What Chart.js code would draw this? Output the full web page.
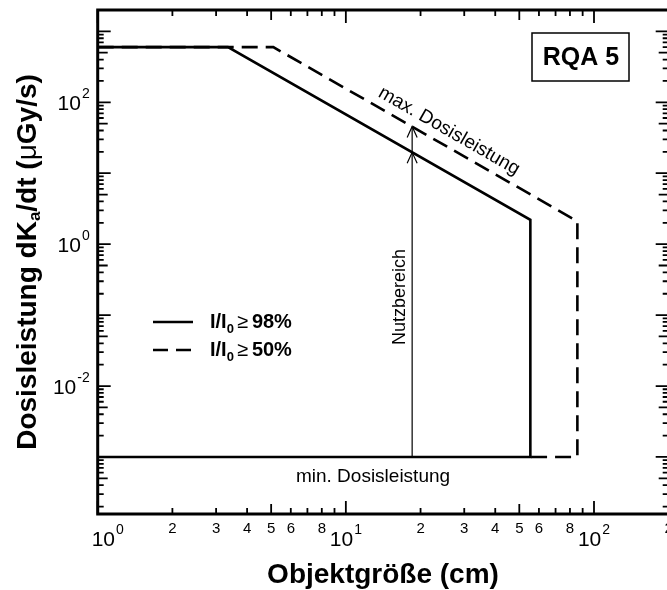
<!DOCTYPE html>
<html>
<head>
<meta charset="utf-8">
<script src="https://cdn.jsdelivr.net/npm/chart.js@4.4.0/dist/chart.umd.min.js"></script>
<style>
  html, body { margin: 0; padding: 0; overflow: hidden; background: #fff; }
  canvas { display: block; }
</style>
</head>
<body>
<canvas id="chart" width="690" height="590"></canvas>
<script>
// Kurven (Objektgröße in cm, Dosisleistung in µGy/s)
const solidX = [1, 3.35, 55.4, 55.4, 1];
const solidY = [600, 600, 2.2, 0.001, 0.001];
const dashX = [1, 5.1, 85.7, 85.7, 55.4];
const dashY = [600, 600, 2.1, 0.001, 0.001];

// Pfeil "Nutzbereich"
const arrowX = [18.5, 18.5];
const arrowY = [0.001, 45.6];
const arrowHeads = [19.7, 45.6];

// Achsen
const xRange = [1, 200];
const yRange = [1.57e-4, 2000];
const xMinorLabels = [2, 3, 4, 5, 6, 8];
const yLabelExp = [-2, 0, 2];

const legendLabels = ['98%', '50%'];

const FONT = "'Liberation Sans', Arial, sans-serif";

function toPoints(xs, ys) {
    return xs.map((x, i) => ({ x: x, y: ys[i] }));
}

function logTicks(min, max) {
    const out = [];
    for (let e = Math.floor(Math.log10(min)); e <= Math.ceil(Math.log10(max)); e++) {
        for (let m = 1; m <= 9; m++) {
            const v = m * Math.pow(10, e);
            if (v >= min * 0.999 && v <= max * 1.001) out.push({ v: v, m: m, e: e });
        }
    }
    return out;
}

// Zehnerpotenz mit Hochzahl zeichnen
function drawPow(ctx, exp, x, y, align) {
    ctx.font = "21px " + FONT;
    const wBase = ctx.measureText('10').width;
    ctx.font = "14px " + FONT;
    const wExp = ctx.measureText(String(exp)).width;
    const total = wBase + wExp + 1;
    let x0 = x;
    if (align === 'center') x0 = x - total / 2;
    if (align === 'right') x0 = x - total;
    ctx.textAlign = 'left';
    ctx.textBaseline = 'middle';
    ctx.font = "21px " + FONT;
    ctx.fillText('10', x0, y);
    ctx.font = "14px " + FONT;
    ctx.fillText(String(exp), x0 + wBase + 1, y - 10);
}

const framePlugin = {
    id: 'frame',
    afterDraw(chart) {
        const ctx = chart.ctx;
        const a = chart.chartArea;
        const xs = chart.scales.x;
        const ys = chart.scales.y;
        ctx.save();
        ctx.fillStyle = '#000';
        ctx.strokeStyle = '#000';

        // Ticks
        ctx.lineWidth = 1.8;
        logTicks(xRange[0], xRange[1]).forEach(t => {
            const px = xs.getPixelForValue(t.v);
            const len = t.m === 1 ? 13 : (t.m === 5 ? 10 : 6);
            ctx.beginPath();
            ctx.moveTo(px, a.bottom); ctx.lineTo(px, a.bottom - len);
            ctx.moveTo(px, a.top); ctx.lineTo(px, a.top + len);
            ctx.stroke();
        });
        logTicks(yRange[0], yRange[1]).forEach(t => {
            const py = ys.getPixelForValue(t.v);
            const len = t.m === 1 ? 13 : (t.m === 5 ? 10 : 6);
            ctx.beginPath();
            ctx.moveTo(a.left, py); ctx.lineTo(a.left + len, py);
            ctx.moveTo(a.right, py); ctx.lineTo(a.right - len, py);
            ctx.stroke();
        });

        // Rahmen
        ctx.lineWidth = 3;
        ctx.strokeRect(a.left, a.top, a.right - a.left, a.bottom - a.top);

        // x-Beschriftung
        logTicks(xRange[0], xRange[1]).forEach(t => {
            const px = xs.getPixelForValue(t.v);
            if (t.m === 1) {
                drawPow(ctx, t.e, px + (t.e === 0 ? 10 : 0), a.bottom + 26, 'center');
            } else if (xMinorLabels.includes(t.m)) {
                ctx.font = "15px " + FONT;
                ctx.textAlign = 'center';
                ctx.textBaseline = 'middle';
                ctx.fillText(String(t.m), px, a.bottom + 15);
            }
        });
        // y-Beschriftung
        yLabelExp.forEach(e => {
            const py = ys.getPixelForValue(Math.pow(10, e));
            drawPow(ctx, e, a.left - 8, py + 2, 'right');
        });

        // Achsentitel
        ctx.font = "bold 28px " + FONT;
        ctx.textAlign = 'center';
        ctx.textBaseline = 'middle';
        ctx.fillText('Objektgröße (cm)', 383, 575);

        ctx.save();
        ctx.translate(28, (a.top + a.bottom) / 2);
        ctx.rotate(-Math.PI / 2);
        const parts = [
            ['Dosisleistung dK', "bold 28px " + FONT, 0],
            ['a', "bold 17px " + FONT, 7],
            ['/dt (', "bold 28px " + FONT, 0],
            ['\u03bc', "28px " + FONT, 0],
            ['Gy/s)', "bold 28px " + FONT, 0]
        ];
        let tw = 0;
        parts.forEach(p => { ctx.font = p[1]; tw += ctx.measureText(p[0]).width; });
        let cx = -tw / 2;
        ctx.textAlign = 'left';
        parts.forEach(p => {
            ctx.font = p[1];
            ctx.fillText(p[0], cx, p[2]);
            cx += ctx.measureText(p[0]).width;
        });
        ctx.restore();

        // Pfeilspitzen
        ctx.lineWidth = 1.2;
        const ax = xs.getPixelForValue(arrowX[0]);
        arrowHeads.forEach(v => {
            const py = ys.getPixelForValue(v);
            ctx.beginPath();
            ctx.moveTo(ax - 5, py + 11);
            ctx.lineTo(ax, py);
            ctx.lineTo(ax + 5, py + 11);
            ctx.stroke();
        });

        // Texte im Diagramm
        ctx.font = "19px " + FONT;
        ctx.textAlign = 'center';
        ctx.textBaseline = 'middle';
        ctx.fillText('min. Dosisleistung', 373, 477);

        ctx.save();
        ctx.translate(ax - 12, 297);
        ctx.rotate(-Math.PI / 2);
        ctx.font = "18px " + FONT;
        ctx.fillText('Nutzbereich', 0, 0);
        ctx.restore();

        const p1x = xs.getPixelForValue(dashX[1]), p1y = ys.getPixelForValue(dashY[1]);
        const p2x = xs.getPixelForValue(dashX[2]), p2y = ys.getPixelForValue(dashY[2]);
        const ang = Math.atan2(p2y - p1y, p2x - p1x);
        ctx.save();
        ctx.translate(449, 131);
        ctx.rotate(ang);
        ctx.font = "19px " + FONT;
        ctx.fillText('max. Dosisleistung', 0, 0);
        ctx.restore();

        // RQA-Box
        ctx.lineWidth = 1.5;
        ctx.strokeRect(532, 33, 97, 48);
        ctx.font = "bold 25px " + FONT;
        ctx.fillText('RQA 5', 581, 58);

        // Legende
        ctx.lineWidth = 2.5;
        ctx.beginPath(); ctx.moveTo(153, 322); ctx.lineTo(193, 322); ctx.stroke();
        ctx.setLineDash([15, 8]);
        ctx.beginPath(); ctx.moveTo(153, 350); ctx.lineTo(193, 350); ctx.stroke();
        ctx.setLineDash([]);
        legendLabels.forEach((lab, i) => {
            const y = 322 + i * 28;
            let x = 210;
            ctx.textAlign = 'left';
            ctx.font = "bold 20px " + FONT;
            ctx.fillText('I/I', x, y);
            x += ctx.measureText('I/I').width;
            ctx.font = "bold 13px " + FONT;
            ctx.fillText('0', x, y + 7);
            x += ctx.measureText('0').width + 3;
            ctx.font = "20px " + FONT;
            ctx.fillText('\u2265', x, y);
            x += ctx.measureText('\u2265').width + 4;
            ctx.font = "bold 20px " + FONT;
            ctx.fillText(lab, x, y);
        });
        ctx.restore();
    }
};

new Chart(document.getElementById('chart'), {
    type: 'scatter',
    data: {
        datasets: [
            {
                label: 'I/I0 >= 98%',
                data: toPoints(solidX, solidY),
                showLine: true,
                borderColor: '#000',
                borderWidth: 2.6,
                pointRadius: 0,
                tension: 0
            },
            {
                label: 'I/I0 >= 50%',
                data: toPoints(dashX, dashY),
                showLine: true,
                borderColor: '#000',
                borderWidth: 2.6,
                borderDash: [16, 8],
                pointRadius: 0,
                tension: 0
            },
            {
                label: 'Nutzbereich',
                data: toPoints(arrowX, arrowY),
                showLine: true,
                borderColor: '#000',
                borderWidth: 1.2,
                pointRadius: 0
            }
        ]
    },
    options: {
        responsive: false,
        animation: false,
        layout: { padding: { left: 97.7, top: 10, right: 21.3, bottom: 76 } },
        plugins: { legend: { display: false }, tooltip: { enabled: false } },
        scales: {
            x: { type: 'logarithmic', min: xRange[0], max: xRange[1], display: false },
            y: { type: 'logarithmic', min: yRange[0], max: yRange[1], display: false }
        }
    },
    plugins: [framePlugin]
});
</script>
</body>
</html>
